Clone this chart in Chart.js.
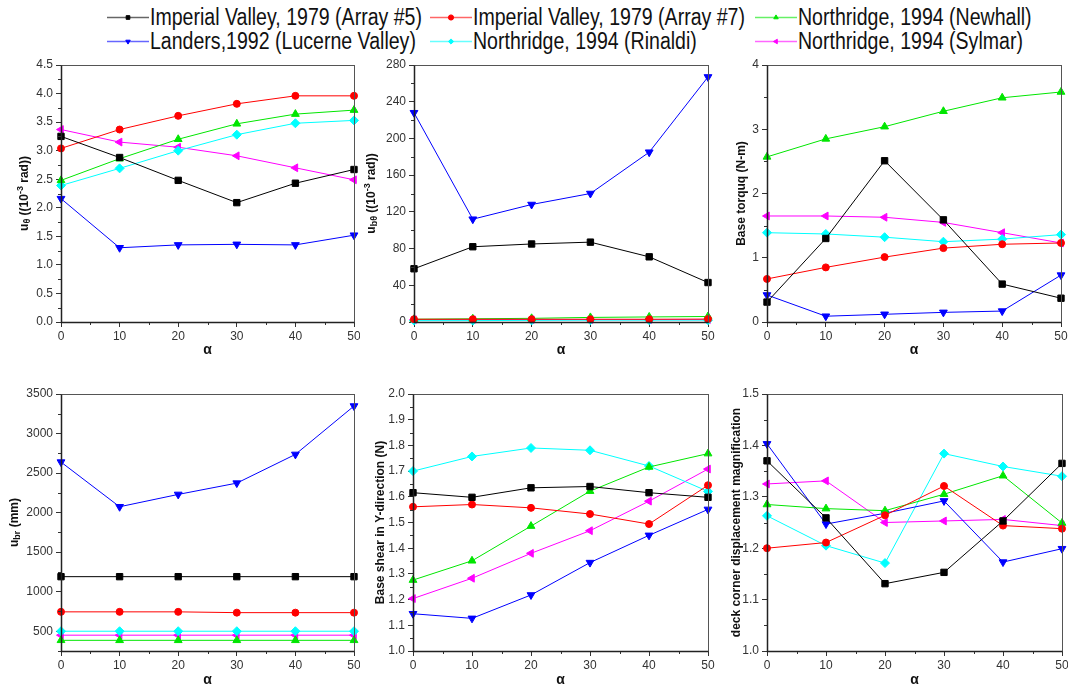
<!DOCTYPE html>
<html>
<head>
<meta charset="utf-8">
<script src="https://cdn.jsdelivr.net/npm/chart.js@4.4.1/dist/chart.umd.min.js"></script>
<style>
  body { margin: 0; background: #fff; width: 1068px; height: 686px; position: relative; overflow: hidden; }
  canvas { position: absolute; }
  .legText { position: absolute; font-family: 'Liberation Sans', Arial, sans-serif; font-size: 23px; line-height: 24px; color: #111; white-space: nowrap; transform: scaleX(0.85); transform-origin: 0 50%; }
</style>
</head>
<body>
<script>
// ---- data ----
var alphaValues = [0, 10, 20, 30, 40, 50];
var seriesNames = [
    'Imperial Valley, 1979 (Array #5)',
    'Imperial Valley, 1979 (Array #7)',
    'Northridge, 1994 (Newhall)',
    'Landers,1992 (Lucerne Valley)',
    'Northridge, 1994 (Rinaldi)',
    'Northridge, 1994 (Sylmar)'
];

// each panel: one row per series, same order as seriesNames
var uTheta = [
    [3.25, 2.88, 2.48, 2.09, 2.43, 2.67],
    [3.04, 3.37, 3.61, 3.82, 3.96, 3.96],
    [2.48, 2.86, 3.20, 3.47, 3.64, 3.71],
    [2.16, 1.30, 1.35, 1.36, 1.35, 1.52],
    [2.39, 2.69, 3.00, 3.28, 3.48, 3.53],
    [3.37, 3.15, 3.06, 2.91, 2.70, 2.49]
];
var uBTheta = [
    [58, 82, 85, 87, 71, 43],
    [3, 3, 3, 3, 3, 3.2],
    [3, 3.5, 4, 5, 5.5, 6],
    [228, 112, 128, 140, 185, 267],
    [1.5, 1.5, 1.8, 2, 2, 2],
    [2.5, 2.5, 2.5, 2.6, 2.6, 2.6]
];
var baseTorque = [
    [0.31, 1.30, 2.51, 1.59, 0.59, 0.37],
    [0.67, 0.85, 1.01, 1.15, 1.21, 1.23],
    [2.57, 2.85, 3.04, 3.28, 3.49, 3.58],
    [0.42, 0.09, 0.12, 0.15, 0.17, 0.73],
    [1.39, 1.37, 1.32, 1.25, 1.29, 1.36],
    [1.65, 1.65, 1.63, 1.55, 1.39, 1.23]
];
var uBr = [
    [1190, 1190, 1190, 1190, 1190, 1190],
    [745, 745, 745, 735, 735, 735],
    [385, 385, 385, 385, 385, 385],
    [2639, 2074, 2230, 2373, 2736, 3348],
    [500, 500, 500, 500, 500, 500],
    [450, 450, 450, 450, 450, 450]
];
var baseShear = [
    [1.616, 1.598, 1.635, 1.640, 1.616, 1.598],
    [1.561, 1.570, 1.557, 1.533, 1.494, 1.645],
    [1.276, 1.351, 1.486, 1.622, 1.716, 1.768],
    [1.145, 1.127, 1.218, 1.344, 1.450, 1.551],
    [1.700, 1.757, 1.790, 1.781, 1.720, 1.621],
    [1.204, 1.283, 1.380, 1.468, 1.583, 1.708]
];
var deckMagnification = [
    [1.370, 1.259, 1.131, 1.153, 1.253, 1.365],
    [1.200, 1.211, 1.264, 1.321, 1.244, 1.238],
    [1.285, 1.277, 1.273, 1.305, 1.341, 1.249],
    [1.403, 1.247, 1.268, 1.292, 1.173, 1.199],
    [1.263, 1.205, 1.171, 1.384, 1.359, 1.340],
    [1.325, 1.331, 1.250, 1.253, 1.256, 1.244]
];

// tick labels
var alphaTicks = [0, 10, 20, 30, 40, 50];
var uThetaTicks = [0, 0.5, 1, 1.5, 2, 2.5, 3, 3.5, 4, 4.5];
var uBThetaTicks = [0, 40, 80, 120, 160, 200, 240, 280];
var torqueTicks = [0, 1, 2, 3, 4];
var uBrTicks = [500, 1000, 1500, 2000, 2500, 3000, 3500];
var shearTicks = [1.0, 1.1, 1.2, 1.3, 1.4, 1.5, 1.6, 1.7, 1.8, 1.9, 2.0];
var deckTicks = [1.0, 1.1, 1.2, 1.3, 1.4, 1.5];

// ---- styles ----
var seriesColors = ['#000000', '#ff0000', '#00e600', '#0000ff', '#00ffff', '#ff00ff'];
var seriesMarkers = ['rect', 'circle', 'triangle', 'triangle', 'rectRot', 'triangle'];
var markerRotation = [0, 0, 0, 180, 0, 270];
var markerRadius = [4.5, 3.5, 4.5, 4.5, 4.5, 4.5];

var tickFont = { family: "'Liberation Sans', Arial, sans-serif", size: 12 };
var tickColor = '#333';

// legend
var legendCols = [107, 430, 755];
var legendRows = [17, 41];
seriesNames.forEach(function (name, i) {
    var cx = legendCols[i % 3], cy = legendRows[Math.floor(i / 3)];
    var sw = document.createElement('canvas');
    sw.width = 42; sw.height = 14;
    sw.style.left = cx + 'px'; sw.style.top = (cy - 7) + 'px';
    document.body.appendChild(sw);
    var c = sw.getContext('2d');
    c.globalAlpha = 0.6;
    c.strokeStyle = seriesColors[i];
    c.lineWidth = 1.5;
    c.beginPath(); c.moveTo(0, 7.5); c.lineTo(42, 7.5); c.stroke();
    c.globalAlpha = 1;
    c.fillStyle = seriesColors[i];
    c.strokeStyle = seriesColors[i];
    c.lineWidth = 1;
    Chart.helpers.drawPoint(c, { pointStyle: seriesMarkers[i], radius: 2.6, rotation: markerRotation[i], borderWidth: 1 }, 21, 7.5);
    var t = document.createElement('div');
    t.className = 'legText';
    t.textContent = name;
    t.style.left = (cx + 43) + 'px';
    t.style.top = (cy - 12) + 'px';
    document.body.appendChild(t);
});

// draws the Origin-like box, minor ticks and axis titles
var framePlugin = {
    id: 'frame',
    afterDraw: function (chart) {
        var p = chart.options.plugins.frame;
        var ctx = chart.ctx, a = chart.chartArea;
        var xs = chart.scales.x, ys = chart.scales.y;
        ctx.save();
        ctx.strokeStyle = '#333';
        ctx.lineWidth = 1;
        // minor ticks
        ctx.beginPath();
        var k, v, px;
        for (k = Math.ceil(xs.min / p.minorX); k * p.minorX <= xs.max + 1e-9; k++) {
            v = k * p.minorX;
            if (Math.abs(v / (2 * p.minorX) - Math.round(v / (2 * p.minorX))) < 1e-6) continue;
            px = Math.round(xs.getPixelForValue(v)) + 0.5;
            ctx.moveTo(px, a.bottom); ctx.lineTo(px, a.bottom + 3);
        }
        for (k = Math.ceil(ys.min / p.minorY - 1e-9); k * p.minorY <= ys.max + 1e-9; k++) {
            v = k * p.minorY;
            if (Math.abs(v / (2 * p.minorY) - Math.round(v / (2 * p.minorY))) < 1e-6) continue;
            px = Math.round(ys.getPixelForValue(v)) + 0.5;
            ctx.moveTo(a.left, px); ctx.lineTo(a.left - 3, px);
        }
        ctx.stroke();
        // box
        var l = Math.round(a.left) + 0.5, r = Math.round(a.right) + 0.5;
        var t = Math.round(a.top) + 0.5, b = Math.round(a.bottom) + 0.5;
        ctx.strokeStyle = '#555';
        ctx.strokeRect(l, t, r - l, b - t);
        ctx.strokeStyle = '#222';
        ctx.lineWidth = 1.5;
        ctx.beginPath();
        ctx.moveTo(l, t); ctx.lineTo(l, b); ctx.lineTo(r, b);
        ctx.stroke();
        // x title
        ctx.fillStyle = '#111';
        ctx.font = "bold 14px 'Liberation Sans', Arial, sans-serif";
        ctx.textAlign = 'center';
        ctx.textBaseline = 'middle';
        ctx.fillText('\u03b1', (a.left + a.right) / 2, p.xTitleY);
        // y title, rotated, with sub/superscripts
        ctx.translate(p.yTitleX, (a.top + a.bottom) / 2);
        ctx.rotate(-Math.PI / 2);
        var fam = "'Liberation Sans', Arial, sans-serif";
        var parts = p.yTitle.map(function (q) {
            var size = q[1] ? 9 : 12;
            ctx.font = 'bold ' + size + 'px ' + fam;
            return { text: q[0], size: size, dy: q[1] === 'sub' ? 3 : (q[1] === 'sup' ? -4 : 0), w: ctx.measureText(q[0]).width };
        });
        var total = parts.reduce(function (s, q) { return s + q.w; }, 0);
        var x = -total / 2;
        ctx.textAlign = 'left';
        parts.forEach(function (q) {
            ctx.font = 'bold ' + q.size + 'px ' + fam;
            ctx.fillText(q.text, x, q.dy);
            x += q.w;
        });
        ctx.restore();
    }
};

var panels = [
    { values: uTheta, ticks: uThetaTicks, min: 0, max: 4.5, dec: 1, minorY: 0.25,
      canvas: [0, 50, 360, 310], area: [61, 65, 354, 322], yTitleX: 25, xTitleY: 350,
      yTitle: [['u', ''], ['\u03b8', 'sub'], [' ((10', ''], ['-3', 'sup'], [' rad))', '']] },
    { values: uBTheta, ticks: uBThetaTicks, min: 0, max: 280, dec: 0, minorY: 20,
      canvas: [360, 50, 356, 310], area: [414, 65, 708, 322], yTitleX: 372, xTitleY: 350,
      yTitle: [['u', ''], ['b\u03b8', 'sub'], [' ((10', ''], ['-3', 'sup'], [' rad))', '']] },
    { values: baseTorque, ticks: torqueTicks, min: 0, max: 4, dec: 0, minorY: 0.5,
      canvas: [716, 50, 352, 310], area: [767, 65, 1061, 322], yTitleX: 742, xTitleY: 350,
      yTitle: [['Base torquq (N-m)', '']] },
    { values: uBr, ticks: uBrTicks, min: 250, max: 3500, dec: 0, minorY: 250,
      canvas: [0, 375, 360, 311], area: [61, 394, 354, 651], yTitleX: 15, xTitleY: 680,
      yTitle: [['u', ''], ['br', 'sub'], [' (mm)', '']] },
    { values: baseShear, ticks: shearTicks, min: 1.0, max: 2.0, dec: 1, minorY: 0.05,
      canvas: [360, 375, 356, 311], area: [413, 394, 708, 651], yTitleX: 381, xTitleY: 680,
      yTitle: [['Base shear in Y-direction (N)', '']] },
    { values: deckMagnification, ticks: deckTicks, min: 1.0, max: 1.5, dec: 1, minorY: 0.05,
      canvas: [716, 375, 352, 311], area: [767, 394, 1062, 651], yTitleX: 737, xTitleY: 680,
      yTitle: [['deck corner displacement magnification', '']] }
];

panels.forEach(function (p) {
    var cv = document.createElement('canvas');
    var cl = p.canvas[0], ct = p.canvas[1], cw = p.canvas[2], ch = p.canvas[3];
    cv.width = cw; cv.height = ch;
    cv.style.left = cl + 'px'; cv.style.top = ct + 'px';
    document.body.appendChild(cv);

    var datasets = p.values.map(function (row, i) {
        return {
            label: seriesNames[i],
            data: alphaValues.map(function (a, j) { return { x: a, y: row[j] }; }),
            borderColor: seriesColors[i],
            backgroundColor: seriesColors[i],
            borderWidth: 1,
            pointStyle: seriesMarkers[i],
            pointRotation: markerRotation[i],
            pointRadius: markerRadius[i],
            pointBorderWidth: 1,
            pointBackgroundColor: seriesColors[i],
            pointBorderColor: seriesColors[i],
            tension: 0,
            clip: false
        };
    });

    new Chart(cv.getContext('2d'), {
        type: 'line',
        data: { datasets: datasets },
        plugins: [framePlugin],
        options: {
            responsive: false,
            animation: false,
            events: [],
            layout: { padding: { left: 0, top: p.area[1] - ct, right: cl + cw - p.area[2], bottom: 0 } },
            plugins: {
                legend: { display: false },
                tooltip: { enabled: false },
                frame: { minorX: 5, minorY: p.minorY, yTitle: p.yTitle, yTitleX: p.yTitleX - cl, xTitleY: p.xTitleY - ct }
            },
            scales: {
                x: {
                    type: 'linear', min: 0, max: 50,
                    afterBuildTicks: function (ax) { ax.ticks = alphaTicks.map(function (v) { return { value: v }; }); },
                    afterFit: function (ax) { ax.height = ct + ch - p.area[3]; ax.paddingLeft = 0; ax.paddingRight = 0; },
                    ticks: { font: tickFont, color: tickColor, padding: 2, maxRotation: 0, autoSkip: false },
                    grid: { drawOnChartArea: false, tickLength: 5, color: '#333' },
                    border: { display: false }
                },
                y: {
                    type: 'linear', min: p.min, max: p.max,
                    afterBuildTicks: function (ax) { ax.ticks = p.ticks.map(function (v) { return { value: v }; }); },
                    afterFit: function (ax) { ax.width = p.area[0] - cl; ax.paddingTop = 0; ax.paddingBottom = 0; },
                    ticks: {
                        font: tickFont, color: tickColor, padding: 3, autoSkip: false,
                        callback: function (v) { return Number(v).toFixed(p.dec); }
                    },
                    grid: { drawOnChartArea: false, tickLength: 5, color: '#333' },
                    border: { display: false }
                }
            }
        }
    });
});
</script>
</body>
</html>
